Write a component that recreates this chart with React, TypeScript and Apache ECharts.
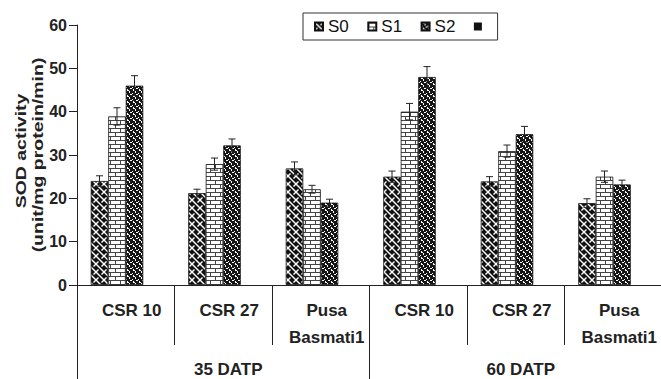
import React, { useEffect, useRef } from "react";
import * as echarts from "echarts";

const categories = ["CSR 10", "CSR 27", "Pusa\nBasmati1", "CSR 10", "CSR 27", "Pusa\nBasmati1"];
const groups = ["35 DATP", "60 DATP"];
const seriesNames = ["S0", "S1", "S2"];
const s0Values = [24, 21.2, 26.9, 25, 23.9, 18.9];
const s1Values = [38.9, 27.9, 22.1, 40, 30.9, 25];
const s2Values = [46, 32.2, 19, 48, 34.8, 23.2];
const s0Errors = [1.2, 0.9, 1.5, 1.3, 1.1, 1];
const s1Errors = [2, 1.4, 0.9, 1.9, 1.4, 1.3];
const s2Errors = [2.3, 1.5, 0.8, 2.4, 1.8, 1];
const yTicks = { min: 0, max: 60, interval: 10 };

const FONT = "'Liberation Sans', Arial, sans-serif";
const BAR_W = 17.5;

function tile(w: number, h: number, draw: (c: CanvasRenderingContext2D) => void) {
  const cv = document.createElement("canvas");
  cv.width = w;
  cv.height = h;
  const ctx = cv.getContext("2d")!;
  draw(ctx);
  return { image: cv, repeat: "repeat", imageWidth: w, imageHeight: h } as any;
}

function makePatterns() {
  const p0 = tile(8, 8, (c) => {
    c.fillStyle = "#111";
    c.fillRect(0, 0, 8, 8);
    c.strokeStyle = "#fff";
    c.lineWidth = 1.4;
    c.beginPath();
    c.moveTo(-2, -2); c.lineTo(10, 10);
    c.moveTo(-2, 6); c.lineTo(2, 10);
    c.moveTo(6, -2); c.lineTo(10, 2);
    c.moveTo(-1, 9); c.lineTo(2.5, 5.5);
    c.moveTo(5.5, 2.5); c.lineTo(9, -1);
    c.stroke();
  });
  const p1 = tile(10, 8, (c) => {
    c.fillStyle = "#fff";
    c.fillRect(0, 0, 10, 8);
    c.strokeStyle = "#444";
    c.lineWidth = 1;
    c.beginPath();
    c.moveTo(0, 0.5); c.lineTo(10, 0.5);
    c.moveTo(0, 4.5); c.lineTo(10, 4.5);
    c.moveTo(0.5, 0); c.lineTo(0.5, 4.5);
    c.moveTo(5.5, 4.5); c.lineTo(5.5, 8);
    c.stroke();
  });
  const p2 = tile(6, 6, (c) => {
    c.fillStyle = "#151515";
    c.fillRect(0, 0, 6, 6);
    c.fillStyle = "#fff";
    c.fillRect(1, 0, 2, 1);
    c.fillRect(3, 1, 1, 2);
    c.fillRect(0, 3, 1, 1);
    c.fillRect(4, 4, 2, 1);
    c.fillRect(1, 5, 1, 1);
  });
  return [p0, p1, p2];
}

export default function App() {
  const ref = useRef<HTMLDivElement>(null);
  useEffect(() => {
    if (!ref.current) return;
    const chart = echarts.init(ref.current, undefined, { renderer: "svg" });
    const patterns = makePatterns();
    const values = [s0Values, s1Values, s2Values];
    const errors = [s0Errors, s1Errors, s2Errors];

    const barSeries: any[] = seriesNames.map((n, i) => ({
      name: n,
      type: "bar",
      xAxisIndex: 0,
      barWidth: BAR_W,
      barGap: "0%",
      data: values[i],
      itemStyle: { color: patterns[i], borderColor: "#111", borderWidth: 0.8 },
      z: 2,
    }));
    barSeries.push({
      name: " ",
      type: "bar",
      xAxisIndex: 0,
      barWidth: BAR_W,
      barGap: "0%",
      data: [],
      itemStyle: { color: "#111" },
    });

    const errSeries: any[] = seriesNames.map((n, i) => ({
      name: "err" + n,
      type: "custom",
      xAxisIndex: 0,
      z: 5,
      data: values[i].map((v, k) => [k, v, errors[i][k]]),
      encode: { x: 0, y: 1 },
      renderItem: (params: any, api: any) => {
        const k = api.value(0);
        const v = api.value(1);
        const e = api.value(2);
        const top = api.coord([k, v + e]);
        const bot = api.coord([k, v - e]);
        const x = top[0] + (i - 1.5) * BAR_W;
        const st = { stroke: "#222", lineWidth: 1 };
        return {
          type: "group",
          children: [
            { type: "line", shape: { x1: x, y1: top[1], x2: x, y2: bot[1] }, style: st },
            { type: "line", shape: { x1: x - 3.5, y1: top[1], x2: x + 3.5, y2: top[1] }, style: st },
            { type: "line", shape: { x1: x - 3.5, y1: bot[1], x2: x + 3.5, y2: bot[1] }, style: st },
          ],
        };
      },
    }));

    chart.setOption({
      animation: false,
      backgroundColor: "#fff",
      grid: { left: 77, right: -1, top: 25, bottom: 94, containLabel: false, outerBoundsMode: "none" },
      legend: {
        data: [...seriesNames, " "],
        left: 303,
        top: 13,
        padding: [5, 6, 5, 11],
        borderColor: "#333",
        borderWidth: 1,
        itemWidth: 8,
        itemHeight: 8,
        itemGap: 18.5,
        icon: "rect",
        textStyle: { fontFamily: FONT, fontSize: 17, color: "#111" },
      },
      xAxis: [
        {
          type: "category",
          data: categories,
          position: "bottom",
          axisLine: { show: true, lineStyle: { color: "#222", width: 1 } },
          axisTick: { show: true, length: 60, lineStyle: { color: "#222" } },
          axisLabel: {
            interval: 0,
            margin: 12,
            fontFamily: FONT,
            fontWeight: "bold",
            fontSize: 17,
            lineHeight: 27,
            color: "#222",
            padding: [0, 0, 0, 12],
          },
        },
        {
          type: "category",
          data: groups,
          position: "bottom",
          axisLine: { show: false },
          axisTick: { show: true, length: 95, lineStyle: { color: "#222" } },
          axisLabel: {
            interval: 0,
            margin: 75,
            fontFamily: FONT,
            fontWeight: "bold",
            fontSize: 17,
            lineHeight: 18,
            color: "#222",
            padding: [0, 0, 0, 10],
          },
        },
      ],
      yAxis: {
        type: "value",
        min: yTicks.min,
        max: yTicks.max,
        interval: yTicks.interval,
        axisLine: { show: true, lineStyle: { color: "#222" } },
        axisTick: { show: true, length: 8, lineStyle: { color: "#222" } },
        splitLine: { show: false },
        axisLabel: { margin: 10, fontFamily: FONT, fontWeight: "bold", fontSize: 16, color: "#222" },
      },
      graphic: [
        {
          type: "text",
          x: 20.5,
          y: 151,
          rotation: Math.PI / 2,
          scaleX: 1.3,
          style: {
            text: "SOD activity",
            font: "bold 15px 'Liberation Sans', Arial, sans-serif",
            fill: "#222",
            align: "center",
            verticalAlign: "middle",
          },
        },
        {
          type: "text",
          x: 38,
          y: 155,
          rotation: Math.PI / 2,
          scaleX: 1.3,
          style: {
            text: "(unit/mg protein/min)",
            font: "bold 15px 'Liberation Sans', Arial, sans-serif",
            fill: "#222",
            align: "center",
            verticalAlign: "middle",
          },
        },
      ],
      series: [...barSeries, ...errSeries],
    });
    return () => chart.dispose();
  }, []);
  return <div ref={ref} style={{ width: 661, height: 379, position: "absolute", left: 0, top: 0 }} />;
}
